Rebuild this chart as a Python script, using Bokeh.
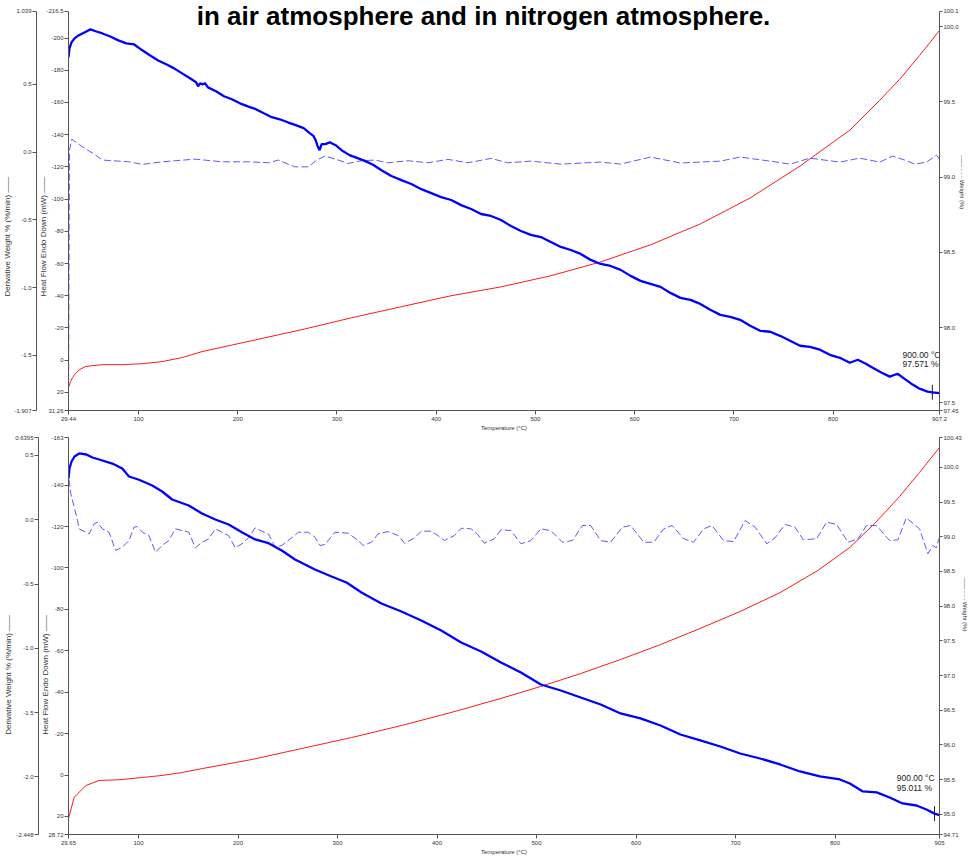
import math
from bokeh.plotting import figure
from bokeh.models import Range1d, LinearAxis, FixedTicker, Label
from bokeh.layouts import column
from bokeh.embed import file_html
from bokeh.resources import INLINE

TITLE = "in air atmosphere and in nitrogen atmosphere."
FONT = "Liberation Sans"

# ---------------- top panel : air ----------------
air_x_ticks = [29.44, 100, 200, 300, 400, 500, 600, 700, 800, 907.2]
air_x_labels = ["29.44", "100", "200", "300", "400", "500", "600", "700", "800", "907.2"]
air_hf_ticks = [-216.5, -200, -180, -160, -140, -120, -100, -80, -60, -40, -20, 0, 20, 31.26]
air_hf_labels = ["-216.5", "-200", "-180", "-160", "-140", "-120", "-100", "-80", "-60", "-40", "-20", "0", "20", "31.26"]
air_dw_ticks = [1.039, 0.5, 0.0, -0.5, -1.0, -1.5, -1.907]
air_dw_labels = ["1.039", "0.5", "0.0", "-0.5", "-1.0", "-1.5", "-1.907"]
air_wt_ticks = [100.1, 100.0, 99.5, 99.0, 98.5, 98.0, 97.5, 97.45]
air_wt_labels = ["100.1", "100.0", "99.5", "99.0", "98.5", "98.0", "97.5", "97.45"]

air_wt_T = [29.44, 30.4, 32.5, 35.5, 39.5, 45.5, 51.5, 57.6, 63.6, 71.6,
            79.7, 87.7, 95.7, 103.8, 111.8, 119.8, 127.9, 135.9, 143.9, 151.9,
            158.0, 160.0, 162.0, 165.0, 167.0, 170.0, 178.1, 186.1, 194.1, 202.2,
            210.2, 218.2, 226.3, 234.3, 242.3, 250.4, 258.4, 266.4, 272.5, 276.5,
            278.5, 280.5, 282.5, 284.5, 288.5, 292.6, 298.6, 304.6, 312.6, 320.7,
            328.7, 336.8, 344.8, 354.8, 364.9, 374.9, 385.0, 395.0, 405.0, 415.1,
            425.1, 435.2, 445.2, 455.3, 465.3, 475.3, 485.4, 495.4, 505.5, 515.5,
            525.6, 535.6, 545.6, 555.7, 565.7, 575.8, 585.8, 595.9, 605.9, 616.0,
            626.0, 636.0, 646.1, 656.1, 666.2, 676.2, 686.3, 696.3, 706.3, 716.4,
            726.4, 736.5, 746.5, 756.6, 766.6, 776.6, 786.7, 796.7, 806.8, 816.8,
            824.9, 832.9, 839.9, 849.0, 857.0, 865.0, 873.1, 880.1, 887.1, 895.2,
            900.0, 907.2]
air_wt = [99.795, 99.855, 99.895, 99.921, 99.941, 99.961, 99.981, 99.967, 99.954, 99.934,
          99.908, 99.888, 99.881, 99.842, 99.808, 99.775, 99.749, 99.722, 99.689, 99.656,
          99.630, 99.603, 99.623, 99.616, 99.623, 99.596, 99.570, 99.537, 99.517, 99.490,
          99.470, 99.451, 99.424, 99.398, 99.384, 99.364, 99.345, 99.325, 99.292, 99.272,
          99.245, 99.205, 99.179, 99.219, 99.219, 99.232, 99.212, 99.179, 99.146, 99.126,
          99.106, 99.080, 99.046, 99.007, 98.980, 98.954, 98.920, 98.894, 98.867, 98.848,
          98.814, 98.788, 98.755, 98.742, 98.715, 98.675, 98.642, 98.616, 98.602, 98.569,
          98.536, 98.516, 98.490, 98.450, 98.423, 98.410, 98.384, 98.344, 98.311, 98.291,
          98.271, 98.231, 98.198, 98.185, 98.158, 98.119, 98.085, 98.072, 98.052, 98.013,
          97.979, 97.973, 97.946, 97.913, 97.880, 97.873, 97.854, 97.820, 97.800, 97.767,
          97.787, 97.761, 97.734, 97.701, 97.675, 97.694, 97.655, 97.622, 97.595, 97.575,
          97.571, 97.565]

air_hf_T = [29.44, 31.5, 33.5, 36.5, 40.5, 46.5, 53.5, 63.6, 83.7, 103.8,
            123.8, 143.9, 164.0, 214.2, 264.4, 314.6, 364.9, 415.1, 465.3, 515.5,
            565.7, 616.0, 666.2, 716.4, 766.6, 816.8, 847.0, 867.1, 887.2, 907.2]
air_hf = [17.0, 13.3, 10.8, 8.4, 5.9, 4.0, 3.4, 2.8, 2.8, 2.2,
          0.9, -1.6, -5.3, -12.1, -18.9, -26.3, -33.2, -40.0, -45.5, -52.4,
          -61.0, -71.6, -84.6, -100.7, -120.5, -142.8, -161.4, -174.4, -189.2, -204.7]

air_dw_T = [29.44, 30.4, 32.8, 43.5, 56.9, 63.6, 90.4, 103.8, 123.8, 157.0,
            184.1, 210.9, 231.0, 241.0, 257.4, 271.2, 279.5, 287.9, 301.3, 311.3,
            324.7, 338.1, 351.5, 371.6, 391.7, 411.8, 431.9, 455.3, 472.0, 495.4,
            525.6, 565.7, 585.8, 616.0, 646.1, 686.3, 706.3, 736.5, 756.6, 776.6,
            806.8, 826.9, 847.0, 860.1, 872.1, 882.2, 894.2, 904.2, 907.2]
air_dw = [-1.907, 0.015, 0.096, 0.040, -0.022, -0.058, -0.071, -0.090, -0.071, -0.051,
          -0.071, -0.071, -0.078, -0.058, -0.108, -0.108, -0.058, -0.029, -0.058, -0.083,
          -0.063, -0.058, -0.078, -0.063, -0.078, -0.053, -0.078, -0.046, -0.078, -0.066,
          -0.088, -0.073, -0.088, -0.036, -0.080, -0.066, -0.036, -0.066, -0.088, -0.044,
          -0.073, -0.044, -0.073, -0.029, -0.058, -0.088, -0.073, -0.022, -0.051]

air_end = {"T": 900.0, "wt": 97.571, "lines": ["900.00 \u00b0C", "97.571 %"]}

# ---------------- bottom panel : nitrogen ----------------
n2_x_ticks = [29.65, 100, 200, 300, 400, 500, 600, 700, 800, 905]
n2_x_labels = ["29.65", "100", "200", "300", "400", "500", "600", "700", "800", "905"]
n2_hf_ticks = [-163, -140, -120, -100, -80, -60, -40, -20, 0, 20, 28.72]
n2_hf_labels = ["-163", "-140", "-120", "-100", "-80", "-60", "-40", "-20", "0", "20", "28.72"]
n2_dw_ticks = [0.6395, 0.5, 0.0, -0.5, -1.0, -1.5, -2.0, -2.448]
n2_dw_labels = ["0.6395", "0.5", "0.0", "-0.5", "-1.0", "-1.5", "-2.0", "-2.448"]
n2_wt_ticks = [100.43, 100.0, 99.5, 99.0, 98.5, 98.0, 97.5, 97.0, 96.5, 96.0, 95.5, 95.0, 94.71]
n2_wt_labels = ["100.43", "100.0", "99.5", "99.0", "98.5", "98.0", "97.5", "97.0", "96.5", "96.0", "95.5", "95.0", "94.71"]

n2_wt_T = [29.65, 30.6, 32.7, 35.7, 40.4, 47.7, 53.7, 60.4, 73.7, 83.7,
           90.4, 100.5, 113.8, 123.8, 133.8, 150.5, 163.9, 177.2, 190.6, 203.9,
           217.2, 230.7, 244.0, 257.3, 277.3, 294.0, 309.1, 324.1, 344.1, 364.2,
           384.2, 404.2, 424.3, 444.3, 464.3, 484.3, 504.4, 524.4, 544.4, 564.5,
           584.5, 604.5, 624.6, 644.6, 664.6, 684.7, 704.7, 724.7, 744.8, 764.8,
           784.8, 804.9, 814.9, 827.9, 841.9, 854.9, 867.9, 881.9, 891.9, 900.0, 905.0]
n2_wt = [99.839, 99.983, 100.084, 100.156, 100.200, 100.185, 100.142, 100.113, 100.055, 99.983,
         99.868, 99.821, 99.739, 99.652, 99.537, 99.450, 99.335, 99.249, 99.177, 99.066,
         98.961, 98.907, 98.802, 98.672, 98.528, 98.427, 98.341, 98.197, 98.038, 97.923,
         97.794, 97.649, 97.477, 97.347, 97.188, 97.044, 96.871, 96.785, 96.684, 96.583,
         96.454, 96.382, 96.281, 96.151, 96.065, 95.978, 95.877, 95.805, 95.719, 95.618,
         95.546, 95.503, 95.445, 95.330, 95.316, 95.243, 95.157, 95.128, 95.070, 95.011, 94.990]

n2_hf_T = [29.65, 35.4, 47.0, 60.4, 80.4, 103.8, 123.8, 143.8, 163.9, 213.9,
           264.0, 314.1, 364.2, 414.2, 464.3, 504.4, 544.4, 584.5, 624.6, 664.6,
           704.7, 744.8, 782.8, 814.9, 839.9, 864.9, 884.9, 905.0]
n2_hf = [21.0, 10.7, 5.1, 2.6, 2.3, 1.2, 0.2, -1.2, -3.1, -7.5,
         -12.8, -18.1, -23.9, -30.2, -37.0, -42.8, -49.0, -55.8, -63.0, -70.8,
         -79.0, -88.1, -98.8, -109.9, -121.5, -134.5, -146.1, -158.2]

n2_dw_T = [29.65, 29.7, 30.35, 31.95, 35.36, 38.66, 40.37, 46.98, 50.38, 55.39,
           58.69, 63.70, 70.41, 77.02, 83.73, 90.44, 95.45, 98.76, 103.76, 110.47,
           117.08, 123.79, 130.50, 137.11, 143.83, 150.54, 157.15, 163.86, 170.57, 177.18,
           183.89, 190.60, 197.21, 203.92, 210.63, 217.24, 223.95, 230.66, 237.27, 243.98,
           254.0, 260.71, 270.73, 277.34, 282.34, 287.35, 297.37, 310.79, 320.80, 325.81,
           334.12, 340.83, 350.85, 360.87, 367.48, 377.49, 384.20, 394.21, 400.92, 407.53,
           417.55, 424.26, 434.27, 440.98, 447.59, 457.61, 464.32, 474.33, 484.35, 494.36,
           504.38, 514.39, 526.11, 536.13, 546.14, 554.45, 564.47, 574.49, 586.20, 594.52,
           607.84, 617.85, 627.87, 636.28, 647.90, 657.92, 667.93, 676.35, 687.96, 697.98,
           709.70, 719.71, 731.43, 739.74, 749.76, 759.77, 768.09, 781.51, 791.52, 801.54,
           813.16, 823.17, 831.59, 841.60, 854.92, 863.24, 871.65, 884.96, 893.28, 898.28,
           901.69, 905.0]
n2_dw = [-2.448, 0.331, 0.305, 0.204, 0.097, -0.006, -0.071, -0.097, -0.110, -0.032,
         -0.019, -0.071, -0.097, -0.239, -0.214, -0.162, -0.058, -0.053, -0.097, -0.123,
         -0.253, -0.200, -0.162, -0.071, -0.084, -0.097, -0.218, -0.175, -0.148, -0.071,
         -0.097, -0.123, -0.218, -0.187, -0.141, -0.063, -0.089, -0.110, -0.214, -0.200,
         -0.141, -0.097, -0.097, -0.136, -0.200, -0.193, -0.097, -0.105, -0.162, -0.200,
         -0.175, -0.110, -0.092, -0.123, -0.183, -0.141, -0.089, -0.089, -0.123, -0.162,
         -0.123, -0.066, -0.071, -0.115, -0.183, -0.148, -0.078, -0.084, -0.187, -0.162,
         -0.071, -0.084, -0.175, -0.162, -0.045, -0.045, -0.162, -0.175, -0.058, -0.045,
         -0.175, -0.175, -0.071, -0.045, -0.148, -0.175, -0.071, -0.045, -0.162, -0.170,
         -0.006, -0.058, -0.187, -0.141, -0.037, -0.058, -0.156, -0.148, -0.019, -0.037,
         -0.175, -0.148, -0.045, -0.045, -0.162, -0.156, 0.015, -0.071, -0.265, -0.200,
         -0.218, -0.136]

n2_end = {"T": 900.0, "wt": 95.011, "lines": ["900.00 \u00b0C", "95.011 %"]}

DW_LABEL = "Derivative Weight % (%/min)  \u2014\u2014"
HF_LABEL = "Heat Flow Endo Down (mW)  \u2014\u2014"
WT_LABEL = "\u2014\u2014  - - -  Weight (%)"
X_LABEL = "Temperature (\u00b0C)"

TXT = "#333333"
AXC = "#555555"
NBSP = "\u00a0"


def style_axis(ax, ticks, labels, label, tick_out, lab_so, ax_so, label_size, bounds=None):
    ax.ticker = FixedTicker(ticks=ticks, minor_ticks=[])
    ax.major_label_overrides = {float(t): s for t, s in zip(ticks, labels)}
    if bounds is not None:
        ax.bounds = bounds
    ax.axis_label = label
    ax.axis_label_text_font = FONT
    ax.axis_label_text_font_size = label_size
    ax.axis_label_text_font_style = "normal"
    ax.axis_label_text_color = TXT
    ax.axis_label_standoff = ax_so
    ax.major_label_text_font = FONT
    ax.major_label_text_font_size = "6px"
    ax.major_label_text_color = TXT
    ax.major_label_standoff = lab_so
    ax.major_tick_in = 0
    ax.major_tick_out = tick_out
    ax.minor_tick_in = 0
    ax.minor_tick_out = 0
    ax.axis_line_color = AXC
    ax.major_tick_line_color = AXC


def make_panel(xr, hf_b, dw_b, wt_b, pad_top, xt, xl, hft, hfl, dwt, dwl, wtt, wtl,
               wT, w, hT, h, dT, d, end, height, top_b, bottom_b,
               ann_xT, ann_y1, ann_y2, left_pad, right_pad):
    # hf_b / dw_b / wt_b are (bottom, top) value pairs; pad_top extends each range
    # above its top tick by the given fraction of its span (room for the title)
    def ext(b):
        return (b[0], b[1] + (b[1] - b[0]) * pad_top)

    p = figure(width=970, height=height,
               x_range=Range1d(*xr), y_range=Range1d(*ext(hf_b)),
               output_backend="svg", toolbar_location=None,
               min_border_left=66, min_border_right=30,
               min_border_top=top_b, min_border_bottom=bottom_b)
    p.extra_y_ranges = {"deriv": Range1d(*ext(dw_b)), "weight": Range1d(*ext(wt_b))}
    p.xgrid.visible = False
    p.ygrid.visible = False
    p.outline_line_color = None
    p.background_fill_color = "white"
    p.border_fill_color = "white"

    # trailing no-break spaces shift the centred axis titles along the axis
    style_axis(p.xaxis[0], xt, xl, X_LABEL, 4, 2, 1, "6px")
    style_axis(p.yaxis[0], hft, hfl, HF_LABEL + NBSP * left_pad, 4, 1, -5, "8px",
               bounds=(min(hf_b), max(hf_b)))
    ax_d = LinearAxis(y_range_name="deriv")
    p.add_layout(ax_d, "left")
    style_axis(ax_d, dwt, dwl, DW_LABEL + NBSP * left_pad, 4, 1, -1, "8px",
               bounds=(min(dw_b), max(dw_b)))
    ax_w = LinearAxis(y_range_name="weight")
    p.add_layout(ax_w, "right")
    style_axis(ax_w, wtt, wtl, WT_LABEL + NBSP * right_pad, 3, 1, -3, "6px",
               bounds=(min(wt_b), max(wt_b)))

    p.line(hT, h, line_color="#ff1a1a", line_width=1.0)
    p.line(dT, d, y_range_name="deriv", line_color="#5a5aff", line_width=1.0,
           line_dash="7 3")
    p.line(wT, w, y_range_name="weight", line_color="#0000ff", line_width=2.3)
    p.scatter([end["T"]], [end["wt"]], y_range_name="weight", marker="dash",
              angle=math.pi / 2, size=15, line_color="#222222", line_width=1)
    for txt, yy in zip(end["lines"], [ann_y1, ann_y2]):
        p.add_layout(Label(x=ann_xT, y=yy, y_range_name="weight", text=txt,
                           text_font=FONT, text_font_size="8.5px",
                           text_color="#222222", text_baseline="middle",
                           text_align="left"))
    return p


# top panel: frame starts at the canvas top; ranges padded by 11 px of 400 px
p1 = make_panel((29.44, 907.2), (31.26, -216.5), (-1.907, 1.039), (97.45, 100.1), 11 / 400,
                air_x_ticks, air_x_labels, air_hf_ticks, air_hf_labels,
                air_dw_ticks, air_dw_labels, air_wt_ticks, air_wt_labels,
                air_wt_T, air_wt, air_hf_T, air_hf, air_dw_T, air_dw, air_end,
                433, 0, 22, 870.0, 97.820, 97.761, 27, 26)
p1.add_layout(Label(x=447.7, y=-213.4, text=TITLE, text_font=FONT,
                    text_font_style="bold", text_font_size="26px",
                    text_color="#000000", text_align="center",
                    text_baseline="alphabetic"))

p2 = make_panel((29.65, 905.0), (28.72, -163.0), (-2.448, 0.6395), (94.71, 100.43), 0.0,
                n2_x_ticks, n2_x_labels, n2_hf_ticks, n2_hf_labels,
                n2_dw_ticks, n2_dw_labels, n2_wt_ticks, n2_wt_labels,
                n2_wt_T, n2_wt, n2_hf_T, n2_hf, n2_dw_T, n2_dw, n2_end,
                428, 4, 27, 862.0, 95.517, 95.373, 34, 36)

layout = column(p1, p2, spacing=0)
open("out.html", "w").write(file_html(layout, INLINE))
